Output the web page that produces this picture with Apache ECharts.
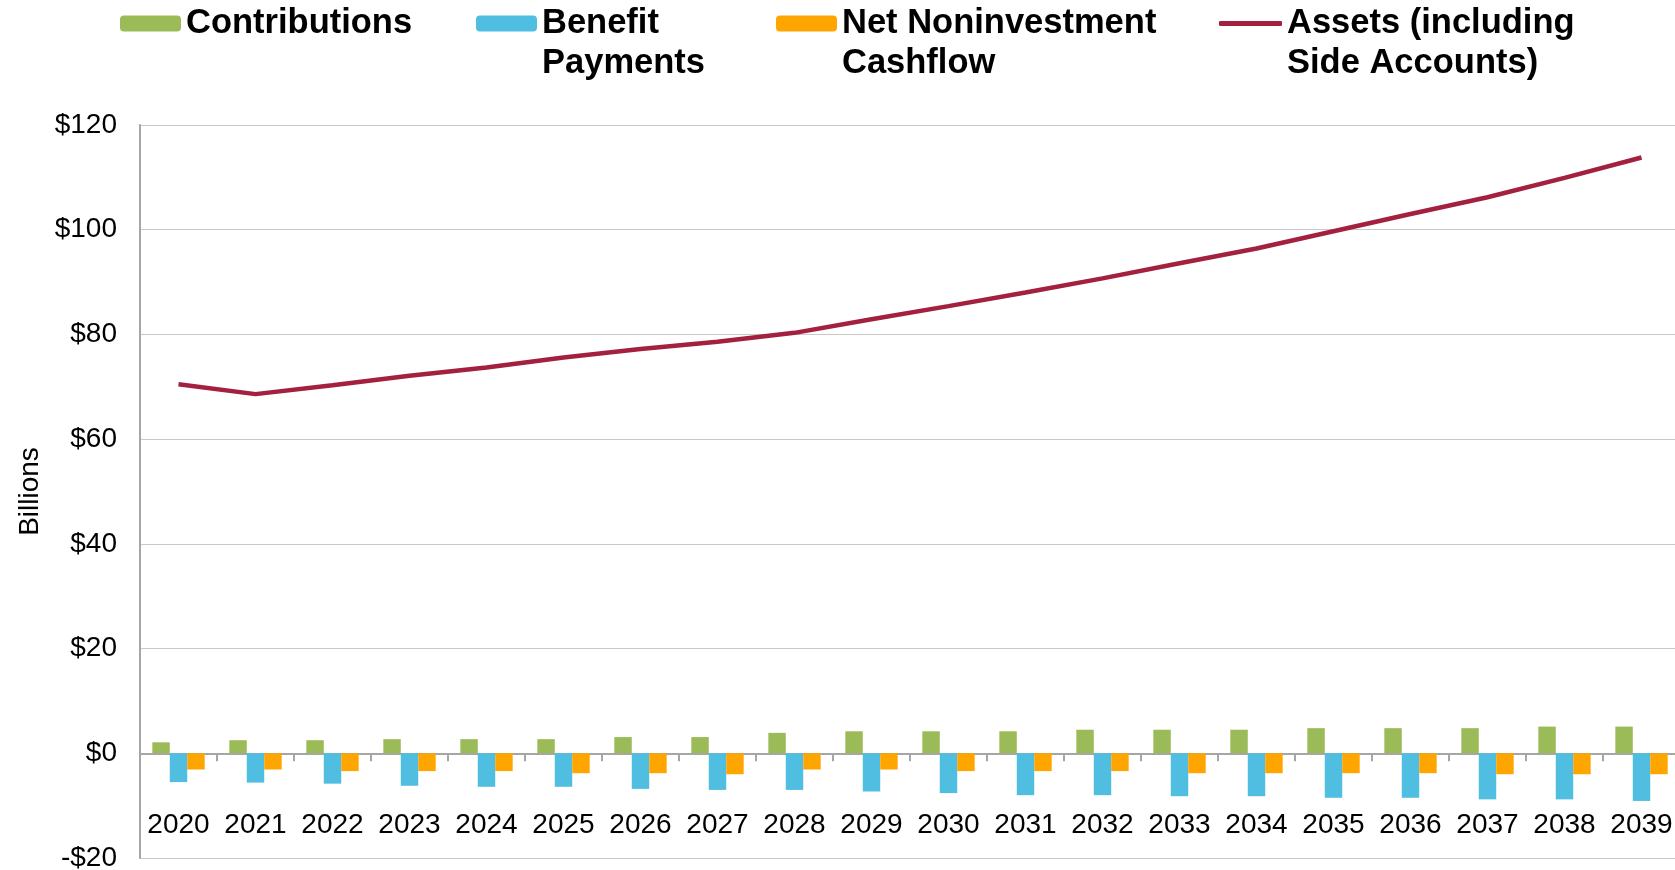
<!DOCTYPE html>
<html>
<head>
<meta charset="utf-8">
<title>Contributions, Benefit Payments and Assets</title>
<script src="https://cdn.jsdelivr.net/npm/echarts@6/dist/echarts.min.js"></script>
<style>
  html, body { margin: 0; padding: 0; background: #fff; }
  #chart { width: 1675px; height: 870px; }
</style>
</head>
<body>
<div id="chart"></div>
<script>
// 数据（单位：十亿美元）
const years = ['2020', '2021', '2022', '2023', '2024', '2025', '2026', '2027', '2028', '2029',
  '2030', '2031', '2032', '2033', '2034', '2035', '2036', '2037', '2038', '2039']
const contributions = [2.1, 2.5, 2.5, 2.7, 2.7, 2.7, 3.1, 3.1, 3.9, 4.2,
  4.2, 4.2, 4.5, 4.5, 4.5, 4.8, 4.8, 4.8, 5.1, 5.1]
const benefitPayments = [-5.5, -5.6, -5.8, -6.2, -6.4, -6.4, -6.8, -7.0, -7.0, -7.3,
  -7.6, -8.0, -8.0, -8.2, -8.2, -8.5, -8.5, -8.8, -8.8, -9.1]
const netNoninvestment = [-3.1, -3.1, -3.4, -3.4, -3.4, -3.8, -3.8, -4.0, -3.1, -3.1,
  -3.4, -3.4, -3.4, -3.8, -3.8, -3.8, -3.8, -4.0, -4.0, -4.0]
const assets = [70.5, 68.6, 70.3, 72.1, 73.7, 75.6, 77.2, 78.6, 80.3, 82.9,
  85.4, 88.0, 90.7, 93.6, 96.4, 99.7, 103.0, 106.2, 109.9, 113.8]

const FONT = "'Liberation Sans', Arial, sans-serif"
const chart = echarts.init(document.getElementById('chart'), null, { renderer: 'canvas' })

// 图例：每项单独放置，两行文字前加空行使首行与图标对齐
const legendBase = {
  orient: 'horizontal',
  padding: 0,
  itemWidth: 61,
  itemHeight: 16,
  textStyle: { fontFamily: FONT, fontSize: 34.5, fontWeight: 'bold', color: '#000', lineHeight: 40 }
}

const option = {
  animation: false,
  backgroundColor: '#fff',
  legend: [
    { ...legendBase, data: ['Contributions'], left: 120, top: 3.5 },
    { ...legendBase, data: ['Benefit Payments'], left: 476, top: -36.5,
      formatter: () => '\nBenefit\nPayments' },
    { ...legendBase, data: ['Net Noninvestment Cashflow'], left: 776, top: -36.5,
      formatter: () => '\nNet Noninvestment\nCashflow' },
    { ...legendBase, data: ['Assets (including Side Accounts)'], left: 1219, top: -36.5,
      icon: 'roundRect', itemWidth: 63, itemHeight: 5,
      formatter: () => '\nAssets (including\nSide Accounts)' }
  ],
  grid: {
    left: 140,
    top: 125,
    width: 1540,
    height: 733,
    outerBoundsMode: 'none',
    containLabel: false
  },
  xAxis: [
    {
      // 零线上的坐标轴：只画轴线和刻度
      type: 'category',
      data: years,
      boundaryGap: true,
      axisLine: { onZero: true, lineStyle: { color: '#a6a6a6', width: 2 } },
      axisTick: { show: true, length: 8, lineStyle: { color: '#a6a6a6', width: 2 } },
      axisLabel: { show: false }
    },
    {
      // 年份标签放在 $0 与 -$20 之间
      type: 'category',
      data: years,
      position: 'bottom',
      offset: -47,
      boundaryGap: true,
      axisLine: { show: false, onZero: false },
      axisTick: { show: false },
      splitLine: { show: false },
      axisLabel: { fontFamily: FONT, fontSize: 28, color: '#000', margin: 0, interval: 0 }
    }
  ],
  yAxis: {
    type: 'value',
    min: -20,
    max: 120,
    interval: 20,
    name: 'Billions',
    nameLocation: 'middle',
    nameGap: 96,
    nameTextStyle: { fontFamily: FONT, fontSize: 28, color: '#000' },
    axisLine: { show: true, lineStyle: { color: '#a6a6a6', width: 2 } },
    axisTick: { show: false },
    axisLabel: {
      fontFamily: FONT,
      fontSize: 28,
      color: '#000',
      margin: 23,
      formatter: v => (v < 0 ? '-$' + Math.abs(v) : '$' + v)
    },
    splitLine: { show: true, lineStyle: { color: '#c8c8c8', width: 1 } }
  },
  series: [
    {
      name: 'Contributions',
      type: 'bar',
      data: contributions,
      barGap: '0%',
      barCategoryGap: '32%',
      itemStyle: { color: '#9bbb59' }
    },
    {
      name: 'Benefit Payments',
      type: 'bar',
      data: benefitPayments,
      itemStyle: { color: '#4fbee0' }
    },
    {
      name: 'Net Noninvestment Cashflow',
      type: 'bar',
      data: netNoninvestment,
      itemStyle: { color: '#ffa500' }
    },
    {
      name: 'Assets (including Side Accounts)',
      type: 'line',
      data: assets,
      symbol: 'none',
      smooth: false,
      z: 5,
      lineStyle: { color: '#a3203f', width: 4.5 },
      itemStyle: { color: '#a3203f' }
    }
  ]
}

chart.setOption(option)
</script>
</body>
</html>
